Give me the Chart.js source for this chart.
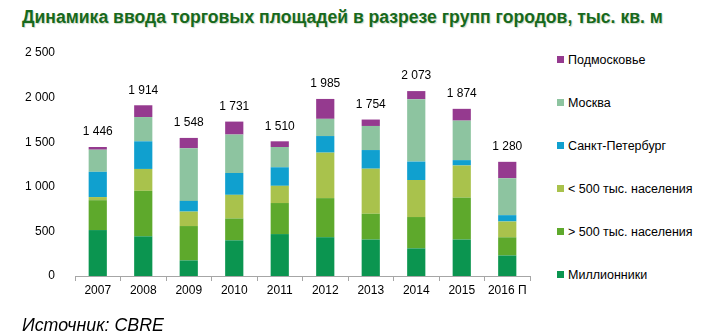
<!DOCTYPE html>
<html>
<head>
<meta charset="utf-8">
<script src="https://cdn.jsdelivr.net/npm/chart.js@4"></script>
<style>
body { margin: 0; background: #fff; font-family: "Liberation Sans", Arial, sans-serif; }
#wrap { position: relative; width: 715px; height: 336px; overflow: hidden; }
#title { position: absolute; left: 22px; top: 7px; font-size: 17.6px; font-weight: bold; color: #17691c; text-shadow: 1px 1px 1px #c9d9c9; white-space: nowrap; }
#source { position: absolute; left: 22px; top: 315px; font-size: 17.8px; font-style: italic; color: #000; }
#chart { position: absolute; left: 0; top: 0; }
#legend { position: absolute; left: 557px; top: 0; font-size: 12.5px; color: #000; }
.item { position: absolute; left: 0; white-space: nowrap; line-height: 14px; }
.item span { display: inline-block; width: 7px; height: 7px; margin-right: 4px; vertical-align: 1px; }
</style>
</head>
<body>
<div id="wrap">
  <div id="title">Динамика ввода торговых площадей в разрезе групп городов, тыс. кв. м</div>
  <canvas id="chart" width="545" height="336"></canvas>
  <div id="legend"></div>
  <div id="source">Источник: CBRE</div>
</div>
<script>
const years = ['2007', '2008', '2009', '2010', '2011', '2012', '2013', '2014', '2015', '2016 П'];

// values, thousand sq. m
const millionniki = [515, 445, 175, 400, 470, 435, 409, 310, 409, 230];
const over500 = [335, 510, 385, 245, 348, 438, 289, 351, 470, 204];
const under500 = [35, 245, 162, 265, 193, 510, 505, 415, 360, 177];
const spb = [283, 310, 120, 245, 208, 186, 209, 207, 60, 71];
const moscow = [248, 272, 590, 431, 227, 193, 270, 699, 443, 414];
const podmoskovye = [30, 132, 116, 145, 64, 223, 72, 91, 132, 184];
const totals = ['1 446', '1 914', '1 548', '1 731', '1 510', '1 985', '1 754', '2 073', '1 874', '1 280'];

const yTicks = [0, 500, 1000, 1500, 2000, 2500];

const series = [
    { label: 'Миллионники', data: millionniki, color: '#0b9550' },
    { label: '> 500 тыс. населения', data: over500, color: '#5ea92c' },
    { label: '< 500 тыс. населения', data: under500, color: '#a9c24c' },
    { label: 'Санкт-Петербург', data: spb, color: '#10a0cf' },
    { label: 'Москва', data: moscow, color: '#8dc4a0' },
    { label: 'Подмосковье', data: podmoskovye, color: '#953a8f' }
];

function fmt(v) {
    return String(v).replace(/\B(?=(\d{3})+(?!\d))/g, ' ');
}

// totals above the top segment
const totalLabels = {
    id: 'totalLabels',
    afterDatasetsDraw(chart) {
        const ctx = chart.ctx;
        const meta = chart.getDatasetMeta(series.length - 1);
        ctx.save();
        ctx.font = '12px "Liberation Sans", Arial, sans-serif';
        ctx.fillStyle = '#000';
        ctx.textAlign = 'center';
        ctx.textBaseline = 'bottom';
        meta.data.forEach(function(bar, i) {
            ctx.fillText(totals[i], bar.x, bar.y - 9);
        });
        ctx.restore();
    }
};

const ctx = document.getElementById('chart').getContext('2d');
const chart = new Chart(ctx, {
    type: 'bar',
    data: {
        labels: years,
        datasets: series.map(function(s) {
            return {
                label: s.label,
                data: s.data,
                backgroundColor: s.color,
                borderWidth: 0,
                categoryPercentage: 1,
                barPercentage: 0.4
            };
        })
    },
    options: {
        responsive: false,
        animation: false,
        layout: { padding: { top: 53, right: 15, bottom: 30, left: 0 } },
        plugins: {
            legend: { display: false },
            tooltip: { enabled: false }
        },
        scales: {
            x: {
                stacked: true,
                grid: { display: true, drawOnChartArea: false, drawTicks: true, tickLength: 5, color: '#a6a6a6', offset: true },
                border: { display: true, color: '#a6a6a6' },
                ticks: { color: '#000', font: { size: 12, family: '"Liberation Sans", Arial, sans-serif' }, padding: 2 },
                afterFit: function(s) { s.height = 30; }
            },
            y: {
                stacked: true,
                min: 0,
                max: 2500,
                afterBuildTicks: function(s) { s.ticks = yTicks.map(function(v) { return { value: v }; }); },
                grid: { display: false },
                border: { display: false },
                ticks: { color: '#000', font: { size: 12, family: '"Liberation Sans", Arial, sans-serif' }, padding: 12, callback: function(v) { return fmt(v); } },
                afterFit: function(s) { s.width = 75; }
            }
        }
    },
    plugins: [totalLabels]
});

// legend, top item first
const legend = document.getElementById('legend');
const legendTops = [53, 96, 139, 182, 225, 268];
series.slice().reverse().forEach(function(s, i) {
    const el = document.createElement('div');
    el.className = 'item';
    el.style.top = legendTops[i] + 'px';
    el.innerHTML = '<span style="background:' + s.color + '"></span>' + s.label;
    legend.appendChild(el);
});
</script>
</body>
</html>
